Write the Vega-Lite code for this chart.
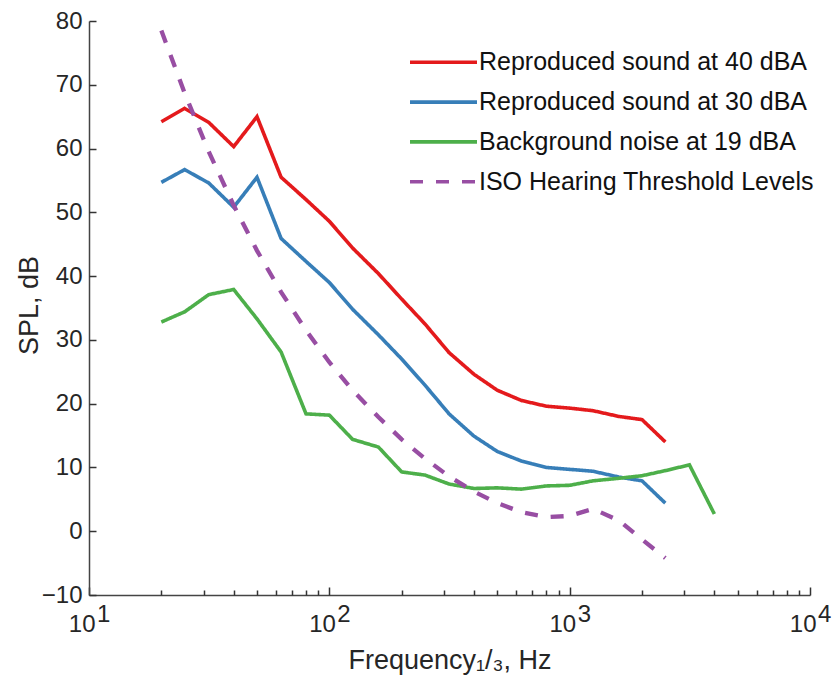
{
  "$schema": "https://vega.github.io/schema/vega-lite/v6.json",
  "width": 721,
  "height": 574,
  "autosize": {"type": "none"},
  "padding": {"left": 89, "top": 21, "right": 22, "bottom": 82},
  "background": "white",
  "config": {
    "view": {"stroke": null},
    "font": "Liberation Sans",
    "axis": {"grid": false, "domainColor": "#444444", "tickColor": "#333333", "domainWidth": 1.5, "tickWidth": 1.5, "labelColor": "#262626", "titleColor": "#262626", "titleFontWeight": "normal", "labelOverlap": false, "labelFlush": false},
    "legend": {"padding": 0, "symbolType": "stroke", "symbolSize": 4489, "symbolStrokeWidth": 3.6, "labelFontSize": 25, "labelColor": "#111111", "labelOffset": 0, "clipHeight": 26, "rowPadding": 13.8, "labelLimit": 600}
  },
  "resolve": {"axis": {"x": "independent", "y": "independent"}},
  "datasets": {
    "curves": [
      {"f": 20, "spl": 64.2, "series": "Reproduced sound at 40 dBA"},
      {"f": 25, "spl": 66.3, "series": "Reproduced sound at 40 dBA"},
      {"f": 31.5, "spl": 64.1, "series": "Reproduced sound at 40 dBA"},
      {"f": 40, "spl": 60.3, "series": "Reproduced sound at 40 dBA"},
      {"f": 50, "spl": 65.0, "series": "Reproduced sound at 40 dBA"},
      {"f": 63, "spl": 55.5, "series": "Reproduced sound at 40 dBA"},
      {"f": 80, "spl": 52.0, "series": "Reproduced sound at 40 dBA"},
      {"f": 100, "spl": 48.6, "series": "Reproduced sound at 40 dBA"},
      {"f": 125, "spl": 44.4, "series": "Reproduced sound at 40 dBA"},
      {"f": 160, "spl": 40.4, "series": "Reproduced sound at 40 dBA"},
      {"f": 200, "spl": 36.4, "series": "Reproduced sound at 40 dBA"},
      {"f": 250, "spl": 32.5, "series": "Reproduced sound at 40 dBA"},
      {"f": 315, "spl": 28.0, "series": "Reproduced sound at 40 dBA"},
      {"f": 400, "spl": 24.6, "series": "Reproduced sound at 40 dBA"},
      {"f": 500, "spl": 22.1, "series": "Reproduced sound at 40 dBA"},
      {"f": 630, "spl": 20.5, "series": "Reproduced sound at 40 dBA"},
      {"f": 800, "spl": 19.6, "series": "Reproduced sound at 40 dBA"},
      {"f": 1000, "spl": 19.3, "series": "Reproduced sound at 40 dBA"},
      {"f": 1250, "spl": 18.9, "series": "Reproduced sound at 40 dBA"},
      {"f": 1600, "spl": 18.0, "series": "Reproduced sound at 40 dBA"},
      {"f": 2000, "spl": 17.5, "series": "Reproduced sound at 40 dBA"},
      {"f": 2500, "spl": 14.0, "series": "Reproduced sound at 40 dBA"},
      {"f": 20, "spl": 54.7, "series": "Reproduced sound at 30 dBA"},
      {"f": 25, "spl": 56.7, "series": "Reproduced sound at 30 dBA"},
      {"f": 31.5, "spl": 54.6, "series": "Reproduced sound at 30 dBA"},
      {"f": 40, "spl": 50.8, "series": "Reproduced sound at 30 dBA"},
      {"f": 50, "spl": 55.5, "series": "Reproduced sound at 30 dBA"},
      {"f": 63, "spl": 45.9, "series": "Reproduced sound at 30 dBA"},
      {"f": 80, "spl": 42.3, "series": "Reproduced sound at 30 dBA"},
      {"f": 100, "spl": 39.0, "series": "Reproduced sound at 30 dBA"},
      {"f": 125, "spl": 34.8, "series": "Reproduced sound at 30 dBA"},
      {"f": 160, "spl": 30.8, "series": "Reproduced sound at 30 dBA"},
      {"f": 200, "spl": 27.0, "series": "Reproduced sound at 30 dBA"},
      {"f": 250, "spl": 22.9, "series": "Reproduced sound at 30 dBA"},
      {"f": 315, "spl": 18.4, "series": "Reproduced sound at 30 dBA"},
      {"f": 400, "spl": 14.9, "series": "Reproduced sound at 30 dBA"},
      {"f": 500, "spl": 12.5, "series": "Reproduced sound at 30 dBA"},
      {"f": 630, "spl": 11.0, "series": "Reproduced sound at 30 dBA"},
      {"f": 800, "spl": 10.0, "series": "Reproduced sound at 30 dBA"},
      {"f": 1000, "spl": 9.7, "series": "Reproduced sound at 30 dBA"},
      {"f": 1250, "spl": 9.4, "series": "Reproduced sound at 30 dBA"},
      {"f": 1600, "spl": 8.5, "series": "Reproduced sound at 30 dBA"},
      {"f": 2000, "spl": 7.9, "series": "Reproduced sound at 30 dBA"},
      {"f": 2500, "spl": 4.4, "series": "Reproduced sound at 30 dBA"},
      {"f": 20, "spl": 32.8, "series": "Background noise at 19 dBA"},
      {"f": 25, "spl": 34.4, "series": "Background noise at 19 dBA"},
      {"f": 31.5, "spl": 37.1, "series": "Background noise at 19 dBA"},
      {"f": 40, "spl": 37.9, "series": "Background noise at 19 dBA"},
      {"f": 50, "spl": 33.3, "series": "Background noise at 19 dBA"},
      {"f": 63, "spl": 28.1, "series": "Background noise at 19 dBA"},
      {"f": 80, "spl": 18.4, "series": "Background noise at 19 dBA"},
      {"f": 100, "spl": 18.2, "series": "Background noise at 19 dBA"},
      {"f": 125, "spl": 14.4, "series": "Background noise at 19 dBA"},
      {"f": 160, "spl": 13.2, "series": "Background noise at 19 dBA"},
      {"f": 200, "spl": 9.3, "series": "Background noise at 19 dBA"},
      {"f": 250, "spl": 8.8, "series": "Background noise at 19 dBA"},
      {"f": 315, "spl": 7.4, "series": "Background noise at 19 dBA"},
      {"f": 400, "spl": 6.7, "series": "Background noise at 19 dBA"},
      {"f": 500, "spl": 6.8, "series": "Background noise at 19 dBA"},
      {"f": 630, "spl": 6.6, "series": "Background noise at 19 dBA"},
      {"f": 800, "spl": 7.1, "series": "Background noise at 19 dBA"},
      {"f": 1000, "spl": 7.2, "series": "Background noise at 19 dBA"},
      {"f": 1250, "spl": 7.9, "series": "Background noise at 19 dBA"},
      {"f": 1600, "spl": 8.3, "series": "Background noise at 19 dBA"},
      {"f": 2000, "spl": 8.7, "series": "Background noise at 19 dBA"},
      {"f": 2500, "spl": 9.5, "series": "Background noise at 19 dBA"},
      {"f": 3150, "spl": 10.4, "series": "Background noise at 19 dBA"},
      {"f": 4000, "spl": 2.7, "series": "Background noise at 19 dBA"},
      {"f": 20, "spl": 78.5, "series": "ISO Hearing Threshold Levels"},
      {"f": 25, "spl": 68.7, "series": "ISO Hearing Threshold Levels"},
      {"f": 31.5, "spl": 59.5, "series": "ISO Hearing Threshold Levels"},
      {"f": 40, "spl": 51.1, "series": "ISO Hearing Threshold Levels"},
      {"f": 50, "spl": 44.0, "series": "ISO Hearing Threshold Levels"},
      {"f": 63, "spl": 37.5, "series": "ISO Hearing Threshold Levels"},
      {"f": 80, "spl": 31.5, "series": "ISO Hearing Threshold Levels"},
      {"f": 100, "spl": 26.5, "series": "ISO Hearing Threshold Levels"},
      {"f": 125, "spl": 22.1, "series": "ISO Hearing Threshold Levels"},
      {"f": 160, "spl": 17.9, "series": "ISO Hearing Threshold Levels"},
      {"f": 200, "spl": 14.4, "series": "ISO Hearing Threshold Levels"},
      {"f": 250, "spl": 11.4, "series": "ISO Hearing Threshold Levels"},
      {"f": 315, "spl": 8.6, "series": "ISO Hearing Threshold Levels"},
      {"f": 400, "spl": 6.2, "series": "ISO Hearing Threshold Levels"},
      {"f": 500, "spl": 4.4, "series": "ISO Hearing Threshold Levels"},
      {"f": 630, "spl": 3.0, "series": "ISO Hearing Threshold Levels"},
      {"f": 800, "spl": 2.2, "series": "ISO Hearing Threshold Levels"},
      {"f": 1000, "spl": 2.4, "series": "ISO Hearing Threshold Levels"},
      {"f": 1250, "spl": 3.5, "series": "ISO Hearing Threshold Levels"},
      {"f": 1600, "spl": 1.7, "series": "ISO Hearing Threshold Levels"},
      {"f": 2000, "spl": -1.3, "series": "ISO Hearing Threshold Levels"},
      {"f": 2500, "spl": -4.2, "series": "ISO Hearing Threshold Levels"}
    ],
    "exps": [
      {"f": 10, "e": "1"},
      {"f": 100, "e": "2"},
      {"f": 1000, "e": "3"},
      {"f": 10000, "e": "4"}
    ]
  },
  "layer": [
    {
      "data": {"name": "curves"},
      "transform": [{"filter": "datum.series !== 'ISO Hearing Threshold Levels'"}],
      "mark": {"type": "line", "strokeWidth": 3.6},
      "encoding": {
        "x": {
          "field": "f", "type": "quantitative",
          "scale": {"type": "log", "domain": [10, 10000], "nice": false},
          "axis": {
            "values": [10, 100, 1000, 10000],
            "labelExpr": "'10'",
            "ticks": false,
            "labelPadding": 36.7,
            "labelBaseline": "alphabetic",
            "labelAlign": "right",
            "labelOffset": 6,
            "labelFontSize": 24,
            "title": "Frequency₁/₃, Hz",
            "titleFontSize": 27,
            "titleBaseline": "alphabetic",
            "titleY": 73.3
          }
        },
        "y": {
          "field": "spl", "type": "quantitative",
          "scale": {"domain": [-10, 80], "nice": false, "zero": false},
          "axis": {
            "values": [-10, 0, 10, 20, 30, 40, 50, 60, 70, 80],
            "ticks": false,
            "labelPadding": 7,
            "labelFontSize": 24,
            "title": "SPL, dB",
            "titleFontSize": 27,
            "titleBaseline": "alphabetic",
            "titleX": -52,
            "titleY": 284
          }
        },
        "color": {
          "field": "series", "type": "nominal",
          "scale": {
            "domain": ["Reproduced sound at 40 dBA", "Reproduced sound at 30 dBA", "Background noise at 19 dBA", "ISO Hearing Threshold Levels"],
            "range": ["#e41a1c", "#377eb8", "#4daf4a", "#984ea3"]
          },
          "legend": {"title": null, "orient": "none", "legendX": 319, "legendY": 28.3}
        },
        "strokeDash": {
          "field": "series", "type": "nominal",
          "scale": {
            "domain": ["Reproduced sound at 40 dBA", "Reproduced sound at 30 dBA", "Background noise at 19 dBA", "ISO Hearing Threshold Levels"],
            "range": [[1, 0], [1, 0], [1, 0], [13, 13]]
          },
          "legend": {"title": null, "orient": "none", "legendX": 319, "legendY": 28.3}
        }
      }
    },
    {
      "data": {"name": "curves"},
      "transform": [{"filter": "datum.series === 'ISO Hearing Threshold Levels'"}],
      "mark": {"type": "line", "strokeWidth": 4.3},
      "encoding": {
        "x": {
          "field": "f", "type": "quantitative",
          "axis": {
            "orient": "top", "offset": -574,
            "values": [20, 30, 40, 50, 60, 70, 80, 90, 200, 300, 400, 500, 600, 700, 800, 900, 2000, 3000, 4000, 5000, 6000, 7000, 8000, 9000],
            "labels": false, "domain": false, "title": null,
            "ticks": true, "tickSize": 5
          }
        },
        "y": {
          "field": "spl", "type": "quantitative",
          "axis": {
            "orient": "right", "offset": -721,
            "values": [-10, 0, 10, 20, 30, 40, 50, 60, 70, 80],
            "labels": false, "domain": false, "title": null,
            "ticks": true, "tickSize": 7
          }
        },
        "color": {"field": "series", "type": "nominal"},
        "strokeDash": {"field": "series", "type": "nominal"}
      }
    },
    {
      "data": {"name": "exps"},
      "mark": {"type": "text", "align": "left", "baseline": "alphabetic", "dx": 8, "dy": 26.7, "fontSize": 24, "color": "#262626"},
      "encoding": {
        "x": {
          "field": "f", "type": "quantitative",
          "axis": {
            "orient": "top", "offset": -574,
            "values": [10, 100, 1000, 10000],
            "labels": false, "domain": false, "title": null,
            "ticks": true, "tickSize": 8
          }
        },
        "y": {"datum": -10, "axis": null},
        "text": {"field": "e"}
      }
    }
  ]
}
